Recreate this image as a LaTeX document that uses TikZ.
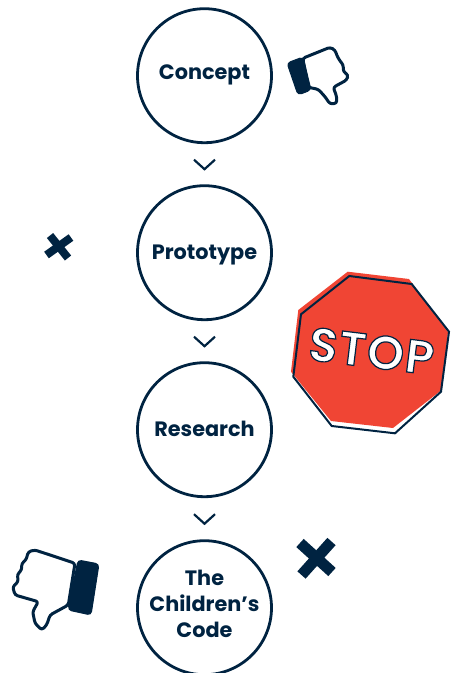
\documentclass[tikz,border=0pt]{standalone}
\usepackage{fontspec}
\setmainfont{Poppins}
\newfontfamily\stopfont[LetterSpace=3]{Poppins SemiBold}
\usetikzlibrary{calc}
\definecolor{navy}{HTML}{002341}
\definecolor{stopred}{HTML}{F04534}
\tikzset{
  stepnode/.style={circle,draw=navy,line width=2.8pt,minimum size=134pt,inner sep=0pt,
    text=navy,align=center,text depth=0pt,font=\bfseries\fontsize{20.8}{26}\selectfont},
  chevron/.style={draw=navy,line width=2.2pt,line join=miter},
  crossbar/.style={draw=navy,line cap=butt},
  handline/.style={draw=navy,fill=white,line width=3pt,line join=round,rounded corners=2.6pt},
  cuff/.style={fill=navy,draw=navy,line width=1pt,line join=round,rounded corners=3.5pt}
}
\begin{document}
\begin{tikzpicture}[x=1pt,y=-1pt]
\useasboundingbox (0,0) rectangle (453,673);

\node[stepnode,text height=7.2pt] (concept) at (204.5,75.7) {Concept};
\node[stepnode,text height=13.2pt] (prototype) at (204.5,252.7) {Prototype};
\node[stepnode,text height=12.6pt] (research) at (204.5,429.7) {Research};
\node[stepnode,text height=60pt] (code) at (204.5,607.7) {The\\Children's\\Code};

\foreach \a/\b in {concept/prototype,prototype/research,research/code}
         {
           \coordinate (\a-mid) at ($(\a)!.5!(\b)$);
           \draw[chevron] (\a-mid) ++(-10.5,-4.5) -- ++(10.5,9.5) -- ++(10.5,-9.5);
         }

% crosses
\draw[crossbar,line width=8pt] (50,235.5) -- (68,258);
\draw[crossbar,line width=8pt] (71,237.5) -- (46.5,255);
\draw[crossbar,line width=11pt] (300,543) -- (332,572);
\draw[crossbar,line width=11pt] (331.5,541.5) -- (301.5,575);

% stop sign
\fill[stopred] (347.7,271.7) -- (409,279) -- (448,332) -- (441.7,390) -- (393,428) -- (331,421) -- (291,371.7) -- (298.3,310) -- cycle;
\draw[navy,line width=2pt,line join=miter] (349.3,276) -- (411.7,284) -- (449,331.7) -- (441,391.7) -- (395,433.3) -- (331.7,426) -- (293.3,376.7) -- (301,314.3) -- cycle;
\node[rotate=-7,text=white,font=\stopfont\fontsize{47}{47}\selectfont] (stoptext) at (371.5,351)
  {\special{pdf:literal direct 0 0.137 0.255 RG 1.2 w 2 Tr}STOP\special{pdf:literal direct 0 Tr}};

% upper hand
\draw[handline] (302.7,58.3) -- (330,47.3) -- (335,50) -- (336.7,55) -- (339.3,60) -- (343.3,65) -- (343.3,71.7) -- (348.3,75) -- (346.7,80) -- (333.3,87.3) -- (336.7,96.7) -- (336.7,103.3) -- (330,104) -- (325,96.7) -- (318.3,89.3) -- (308.3,87.3) -- cycle;
\fill[cuff] (287,63) -- (303,57) -- (311,90) -- (298,95) -- cycle;

% lower hand
\draw[handline] (75,563.3) -- (35,550) -- (28.3,551.7) -- (26,560) -- (21.7,563.3) -- (21.7,570) -- (17.3,574.3) -- (18.3,581.7) -- (12.7,586.7) -- (15,595) -- (38.3,601.7) -- (32.7,611.7) -- (35,623.3) -- (41.7,630) -- (46.7,625) -- (50,615) -- (68.3,605) -- cycle;
\fill[cuff] (78,560) -- (99,564) -- (91,615) -- (68,610) -- cycle;
\end{tikzpicture}
\end{document}
